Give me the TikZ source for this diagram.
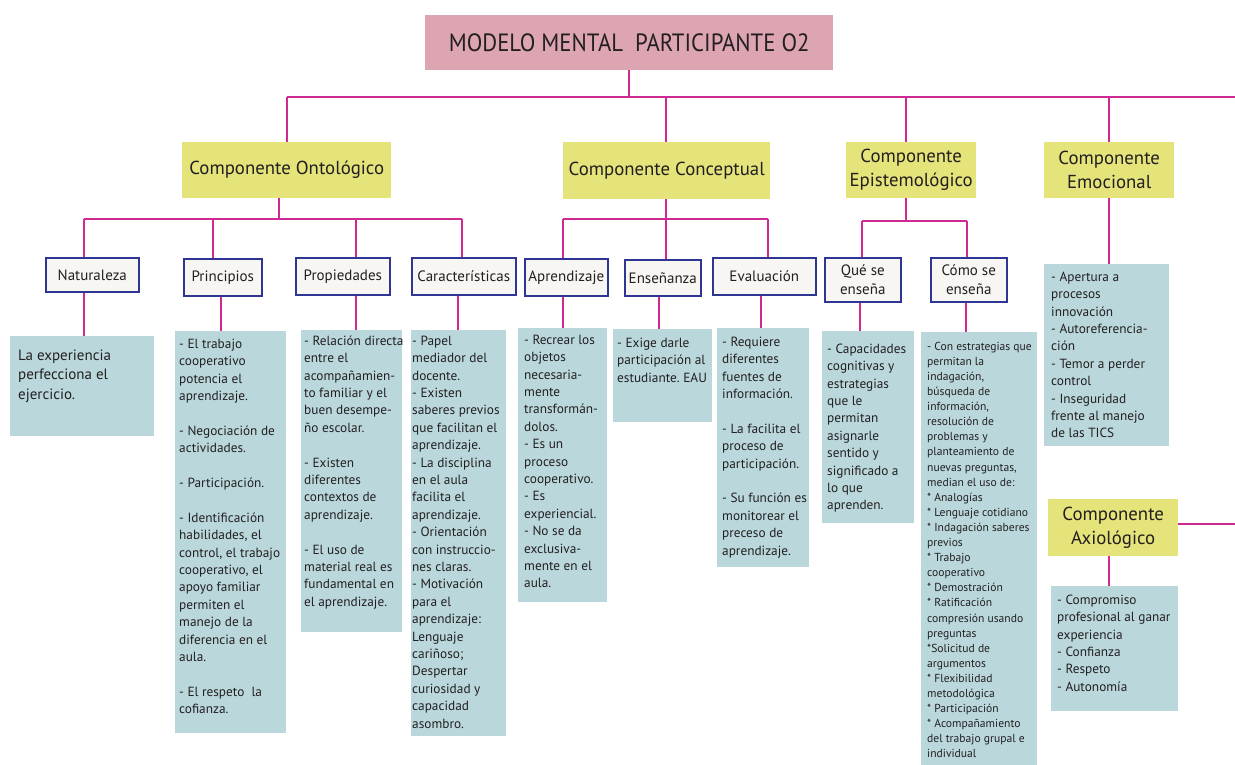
\documentclass[tikz,border=0pt]{standalone}
\usepackage{fontspec}
\setmainfont{PT Sans}
\usetikzlibrary{calc}
\frenchspacing
\definecolor{lineM}{RGB}{206,42,145}
\definecolor{pinkT}{RGB}{221,164,178}
\definecolor{yel}{RGB}{229,228,122}
\definecolor{cblue}{RGB}{186,216,220}
\definecolor{headF}{RGB}{247,246,242}
\definecolor{headB}{RGB}{46,53,146}
\definecolor{txt}{RGB}{35,31,32}
% name, x, y, w, h, left pad, first baseline, text
\newcommand\content[8]{\node[cbox] (#1) at (#2,#3) {\hspace*{#6pt}\makebox[\dimexpr#4pt-#6pt\relax][l]{\parbox[t][#5pt][t]{\dimexpr#4pt-#6pt+40pt\relax}{\raggedright\frenchspacing\rule{0pt}{#7pt}#8}}};}
\newcommand\gap{\\[17.4pt]}
\begin{document}
\begin{tikzpicture}[x=1pt,y=-1pt,
  every node/.style={text=txt},
  conn/.style={draw=lineM,line width=1.6pt},
  busline/.style={draw=lineM,line width=2.2pt},
  titlebox/.style={fill=pinkT,anchor=north west,inner sep=0pt,font=\fontsize{25}{30}\selectfont},
  compbox/.style={fill=yel,anchor=north west,inner sep=0pt,align=center,font=\fontsize{18.8}{24}\selectfont},
  hbox/.style={fill=headF,draw=headB,line width=1.6pt,anchor=north west,inner sep=0pt,align=center,font=\fontsize{15}{19}\selectfont},
  cbox/.style={fill=cblue,anchor=north west,inner sep=0pt,font=\fontsize{13.3}{17.4}\selectfont}
]
\useasboundingbox (0,0) rectangle (1235,765);

% ---- title
\node[titlebox,minimum width=408pt,minimum height=55pt] (T) at (425,15) {\scalebox{0.91}[1]{MODELO MENTAL\ \ PARTICIPANTE O2}};

% ---- level 1
\node[compbox,minimum width=209pt,minimum height=56pt] (O) at (182,142) {Componente Ontológico};
\node[compbox,minimum width=207pt,minimum height=57pt] (C) at (563,142) {Componente Conceptual};
\node[compbox,minimum width=130pt,minimum height=56pt] (E) at (846,142) {Componente\\Epistemológico};
\node[compbox,minimum width=130pt,minimum height=56pt] (Em) at (1044,142) {Componente\\Emocional};
\node[compbox,minimum width=130pt,minimum height=57pt] (Ax) at (1048,499) {Componente\\Axiológico};

% ---- level 2 headings
\node[hbox,minimum width=93pt,minimum height=34pt] (N) at (45,257) {Naturaleza};
\node[hbox,minimum width=78pt,minimum height=37pt] (P) at (183,258) {Principios};
\node[hbox,minimum width=94pt,minimum height=37pt] (Pr) at (295,257) {Propiedades};
\node[hbox,minimum width=104pt,minimum height=37pt] (Ca) at (411,257) {Características};
\node[hbox,minimum width=83pt,minimum height=37pt] (Ap) at (524,258) {Aprendizaje};
\node[hbox,minimum width=76pt,minimum height=36pt] (En) at (624,259) {Enseñanza};
\node[hbox,minimum width=103pt,minimum height=37pt] (Ev) at (712,257) {Evaluación};
\node[hbox,minimum width=76pt,minimum height=44pt] (Q) at (824,257) {Qué se\\enseña};
\node[hbox,minimum width=76pt,minimum height=44pt] (Co) at (930,257) {Cómo se\\enseña};

% ---- content boxes
\content{NC}{10}{336}{144}{100}{8}{0}{\fontsize{15}{19.5}\selectfont\rule{0pt}{24pt}La experiencia\\perfecciona el\\ejercicio.}
\content{PC}{175}{331}{111}{402}{4}{17}{- El trabajo\\cooperativo\\potencia el\\aprendizaje.\gap
- Negociación de\\actividades.\gap
- Participación.\gap
- Identificación\\habilidades, el\\control, el trabajo\\cooperativo, el\\apoyo familiar\\permiten el\\manejo de la\\diferencia en el\\aula.\gap
- El respeto\ \ la\\cofianza.}
\content{PrC}{301}{330}{101}{302}{3}{15}{- Relación directa\\entre el\\acompañamien-\\to familiar y el\\buen desempe-\\ño escolar.\gap
- Existen\\diferentes\\contextos de\\aprendizaje.\gap
- El uso de\\material real es\\fundamental en\\el aprendizaje.}
\content{CaC}{411}{330}{95}{406}{1}{15}{- Papel\\mediador del\\docente.\\- Existen\\saberes previos\\que facilitan el\\aprendizaje.\\- La disciplina\\en el aula\\facilita el\\aprendizaje.\\- Orientación\\con instruccio-\\nes claras.\\- Motivación\\para el\\aprendizaje:\\Lenguaje\\cariñoso;\\Despertar\\curiosidad y\\capacidad\\asombro.}
\content{ApC}{518}{328}{89}{274}{6}{16}{- Recrear los\\objetos\\necesaria-\\mente\\transformán-\\dolos.\\- Es un\\proceso\\cooperativo.\\- Es\\experiencial.\\- No se da\\exclusiva-\\mente en el\\aula.}
\content{EnC}{613}{329}{99}{93}{4}{18}{- Exige darle\\participación al\\estudiante. EAU}
\content{EvC}{717}{328}{92}{239}{5}{18}{- Requiere\\diferentes\\fuentes de\\información.\gap
- La facilita el\\proceso de\\participación.\gap
- Su función es\\monitorear el\\preceso de\\aprendizaje.}
\content{QC}{822}{331}{92}{192}{5}{22}{- Capacidades\\cognitivas y\\estrategias\\que le\\permitan\\asignarle\\sentido y\\significado a\\lo que\\aprenden.}
\content{CoC}{921}{332}{116}{433}{6}{0}{\fontsize{11.6}{15.1}\selectfont\rule{0pt}{18pt}- Con estrategias que\\permitan la\\indagación,\\búsqueda de\\información,\\resolución de\\problemas y\\planteamiento de\\nuevas preguntas,\\median el uso de:\\{}* Analogías\\{}* Lenguaje cotidiano\\{}* Indagación saberes\\previos\\{}* Trabajo\\cooperativo\\{}* Demostración\\{}* Ratificación\\compresión usando\\preguntas\\{}*Solicitud de\\argumentos\\{}* Flexibilidad\\metodológica\\{}* Participación\\{}* Acompañamiento\\del trabajo grupal e\\individual}
\content{EmC}{1044}{264}{125}{182}{7}{17}{- Apertura a\\procesos\\innovación\\- Autoreferencia-\\ción\\- Temor a perder\\control\\- Inseguridad\\frente al manejo\\de las TICS}
\content{AxC}{1051}{586}{127}{125}{6}{18}{- Compromiso\\profesional al ganar\\experiencia\\- Confianza\\- Respeto\\- Autonomía}

% ---- connectors: top bus
\coordinate (busL) at (287,97);
\coordinate (busR) at (1235,97);
\draw[conn] (T.south) -- (T.south |- busL);
\draw[busline] (busL) -- (busR);
\draw[conn] (busL) -- (busL |- O.north);
\coordinate (bC) at (666,97);
\draw[conn] (bC) -- (bC |- C.north);
\coordinate (bE) at (906,97);
\draw[conn] (bE) -- (bE |- E.north);
\coordinate (bEm) at (1109,97);
\draw[conn] (bEm) -- (bEm |- Em.north);
\draw[conn] (bEm |- Em.south) -- (bEm |- EmC.north);

% ---- Ontologico bus
\coordinate (oJ) at (279,219);
\coordinate (oL) at (84,219);
\coordinate (oR) at (462,219);
\draw[conn] (oJ |- O.south) -- (oJ);
\draw[busline] (oL) -- (oR);
\draw[conn] (oL) -- (oL |- N.north);
\coordinate (o2) at (213,219);
\draw[conn] (o2) -- (o2 |- P.north);
\coordinate (o3) at (356,219);
\draw[conn] (o3) -- (o3 |- Pr.north);
\draw[conn] (oR) -- (oR |- Ca.north);
% heading to content
\draw[conn] (oL |- N.south) -- (oL |- NC.north);
\coordinate (p2) at (221,300);
\draw[conn] (p2 |- P.south) -- (p2 |- PC.north);
\draw[conn] (o3 |- Pr.south) -- (o3 |- PrC.north);
\coordinate (p4) at (458,300);
\draw[conn] (p4 |- Ca.south) -- (p4 |- CaC.north);

% ---- Conceptual bus
\coordinate (cL) at (563,219);
\coordinate (cR) at (768,219);
\draw[conn] (bC |- C.south) -- (bC |- cL);
\draw[busline] (cL) -- (cR);
\draw[conn] (cL) -- (cL |- Ap.north);
\draw[conn] (bC |- cL) -- (bC |- En.north);
\draw[conn] (cR) -- (cR |- Ev.north);
\draw[conn] (cL |- Ap.south) -- (cL |- ApC.north);
\coordinate (c2) at (659,300);
\draw[conn] (c2 |- En.south) -- (c2 |- EnC.north);
\coordinate (c3) at (761,300);
\draw[conn] (c3 |- Ev.south) -- (c3 |- EvC.north);

% ---- Epistemologico bus
\coordinate (eL) at (862,221);
\coordinate (eR) at (967,221);
\draw[conn] (bE |- E.south) -- (bE |- eL);
\draw[busline] (eL) -- (eR);
\draw[conn] (eL) -- (eL |- Q.north);
\draw[conn] (eR) -- (eR |- Co.north);
\coordinate (e1) at (860,300);
\draw[conn] (e1 |- Q.south) -- (e1 |- QC.north);
\coordinate (e2) at (966,300);
\draw[conn] (e2 |- Co.south) -- (e2 |- CoC.north);

% ---- Axiologico
\coordinate (axR) at (1235,524);
\draw[conn] (Ax.east |- axR) -- (axR);
\draw[conn] (bEm |- Ax.south) -- (bEm |- AxC.north);
\end{tikzpicture}
\end{document}
